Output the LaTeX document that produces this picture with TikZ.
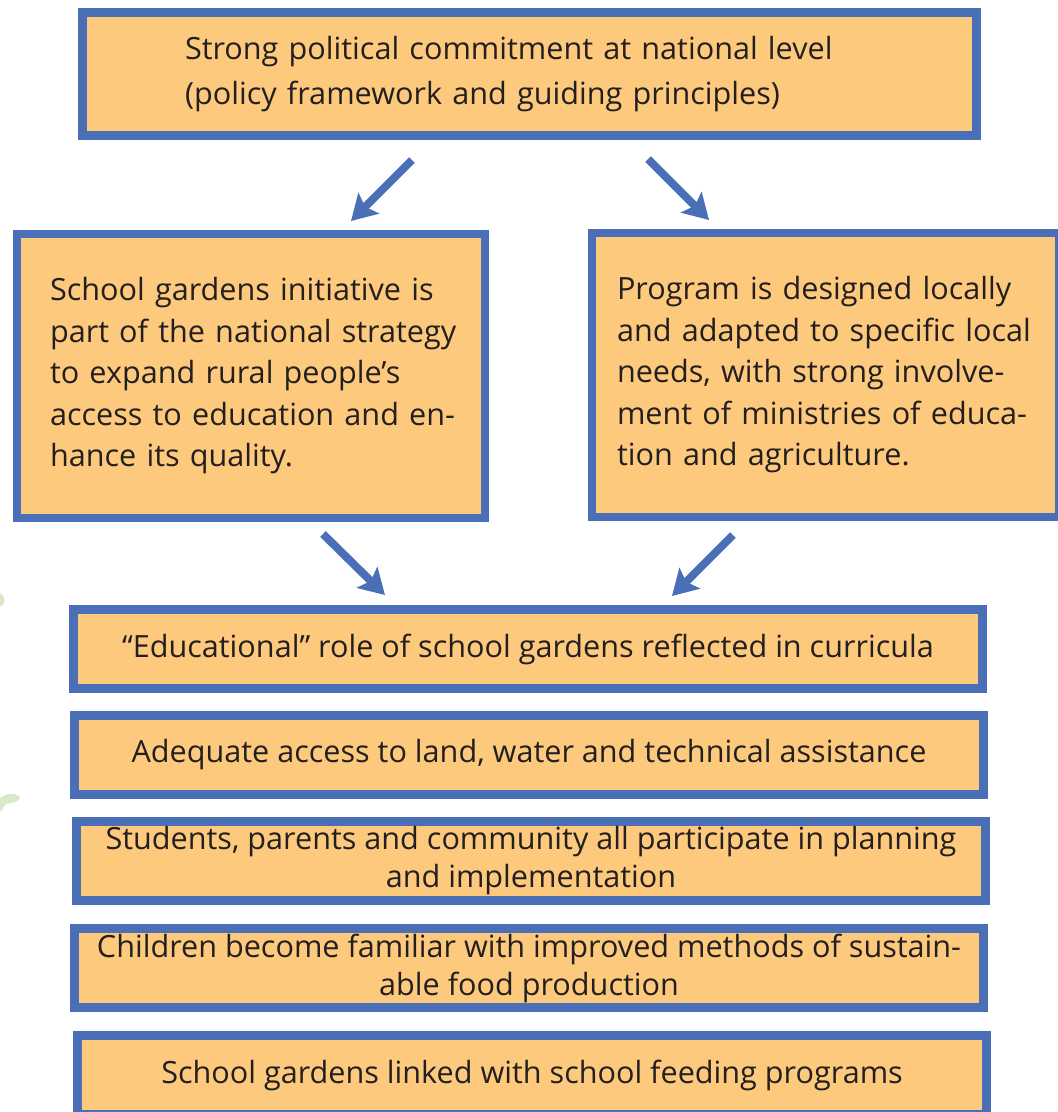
\documentclass[tikz,border=0pt]{standalone}
\usepackage{fontspec}
\setmainfont{Open Sans}
\usetikzlibrary{arrows.meta}
\definecolor{boxblue}{HTML}{4A6FB7}
\definecolor{boxfill}{HTML}{FDC97C}
\definecolor{txt}{HTML}{231F20}
\definecolor{leaf}{HTML}{DAE9C6}
\tikzset{
  x=1pt,y=1pt,
  gbox/.style={draw=boxblue,fill=boxfill,line width=8.5pt,text=txt,inner sep=0pt,
    font=\fontsize{30.6}{40}\selectfont},
  wide/.style={gbox,minimum width=909pt,minimum height=79pt,align=center},
  bigarrow/.style={draw=boxblue,line width=8pt,-{Stealth[length=25pt,width=29pt,inset=5pt]}}
}
\begin{document}
\begin{tikzpicture}
\useasboundingbox (0,0) rectangle (1058,-1112);
% decorative leaves
\fill[leaf] (0,-593) .. controls (4,-595) and (6,-600) .. (3,-605) .. controls (1,-606) .. (0,-606) -- cycle;
\fill[leaf] (0,-798) .. controls (8,-792) and (16,-793) .. (20,-797) .. controls (20,-801) and (14,-803) .. (6,-804) .. controls (3,-807) and (2,-811) .. (0,-812) -- cycle;
% boxes
\node[gbox,minimum width=894pt,minimum height=123pt,text width=689pt,align=left,
  font=\fontsize{30.6}{45}\selectfont] (top) at (529.5,-74)
  {\mbox{Strong political commitment at national level}\\\mbox{(policy framework and guiding principles)}};
\node[gbox,minimum width=468pt,minimum height=284pt,text width=402pt,align=left,
  font=\fontsize{30.6}{41.5}\selectfont] (left) at (251,-376)
  {\mbox{School gardens initiative is}\\\mbox{part of the national strategy}\\\mbox{to expand rural people’s}\\\mbox{access to education and en-}\\\mbox{hance its quality.}};
\node[gbox,minimum width=467pt,minimum height=284pt,text width=417pt,align=left,
  font=\fontsize{30.6}{41.5}\selectfont] (right) at (825.5,-375)
  {\mbox{Program is designed locally}\\\mbox{and adapted to specific local}\\\mbox{needs, with strong involve-}\\\mbox{ment of ministries of educa-}\\\mbox{tion and agriculture.}};
\node[wide] (b4) at (528,-649) {“Educational” role of school gardens reflected in curricula};
\node[wide] (b5) at (529,-755) {Adequate access to land, water and technical assistance};
\node[wide,font=\fontsize{30.6}{38}\selectfont] (b6) at (531,-861) {Students, parents and community all participate in planning\\and implementation};
\node[wide,font=\fontsize{30.6}{38}\selectfont] (b7) at (529,-968) {Children become familiar with improved methods of sustain-\\able food production};
\node[wide] (b8) at (532,-1075) {School gardens linked with school feeding programs};
% arrows
\coordinate (a1s) at (412,-160); \coordinate (a1e) at (351,-221);
\coordinate (a2s) at (648,-159); \coordinate (a2e) at (709,-220);
\coordinate (a3s) at (323,-534); \coordinate (a3e) at (385,-595);
\coordinate (a4s) at (733,-535); \coordinate (a4e) at (672,-596);
\draw[bigarrow] (a1s) -- (a1e);
\draw[bigarrow] (a2s) -- (a2e);
\draw[bigarrow] (a3s) -- (a3e);
\draw[bigarrow] (a4s) -- (a4e);
\end{tikzpicture}
\end{document}
